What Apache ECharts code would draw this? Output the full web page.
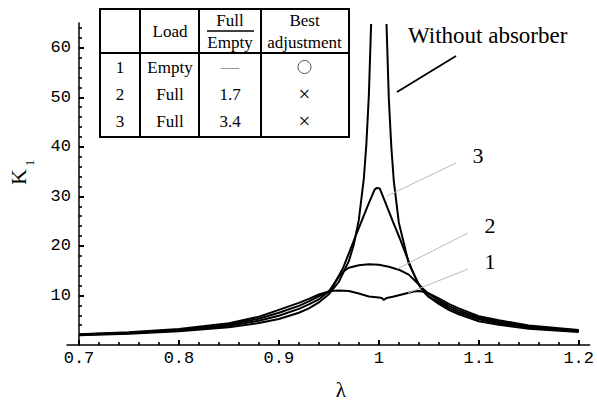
<!DOCTYPE html>
<html><head><meta charset="utf-8">
<script src="https://cdn.jsdelivr.net/npm/echarts@6/dist/echarts.min.js"></script>
<style>html,body{margin:0;padding:0;background:#fff}#c{width:597px;height:405px}</style>
</head><body><div id="c"></div>
<script>
// ---- axis ticks ----
const xTickValues = [0.7, 0.8, 0.9, 1.0, 1.1, 1.2];
const xTickLabels = ['0.7', '0.8', '0.9', '1', '1.1', '1.2'];
const xMinorTicks = [0.72,0.74,0.76,0.78,0.82,0.84,0.86,0.88,0.92,0.94,0.96,0.98,1.02,1.04,1.06,1.08,1.12,1.14,1.16,1.18];
const yMajorTicks = [10, 20, 30, 40, 50, 60];
const yMinorTicks = [2,4,6,8,12,14,16,18,22,24,26,28,32,34,36,38,42,44,46,48,52,54,56,58,62,64];
const xAxisName = 'λ';
const yAxisName = ['K', '1'];

// ---- series: Without absorber ----
const lambdaW = [0.70,0.75,0.80,0.85,0.88,0.90,0.92,0.93,0.94,0.95,0.96,0.97,0.975,0.98,0.985,0.9875,0.99,0.9923,1.0,1.0077,1.01,1.0125,1.015,1.02,1.03,1.04,1.05,1.06,1.07,1.08,1.10,1.12,1.15,1.20];
const kW      = [1.96,2.29,2.78,3.60,4.43,5.26,6.51,7.40,8.59,10.26,12.76,16.92,20.3,25.25,33.6,40.4,50.25,64.8,null,64.8,49.75,40.0,33.1,24.75,16.42,12.25,9.76,8.3,7.1,6.2,4.8,4.1,3.3,2.6];

// ---- series 1: Empty, best adjustment ----
const lambda1 = [0.70,0.75,0.80,0.85,0.88,0.90,0.92,0.93,0.94,0.945,0.95,0.955,0.96,0.97,0.98,0.99,1.000,1.003,1.005,1.008,1.015,1.025,1.035,1.04,1.046,1.05,1.055,1.06,1.07,1.08,1.10,1.12,1.15,1.20];
const k1      = [2.15,2.55,3.25,4.40,5.70,7.1,8.5,9.3,10.2,10.5,10.8,10.95,11.0,10.9,10.4,9.8,9.6,9.5,9.1,9.5,9.8,10.3,10.8,10.9,10.7,10.4,9.9,9.4,8.3,7.4,5.8,5.0,3.95,3.05];

// ---- series 2: Full, 1.7 ----
const lambda2 = [0.70,0.75,0.80,0.85,0.88,0.90,0.92,0.93,0.94,0.95,0.955,0.96,0.965,0.97,0.98,0.99,1.00,1.01,1.02,1.03,1.035,1.04,1.045,1.05,1.06,1.07,1.08,1.10,1.12,1.15,1.20];
const k2      = [2.10,2.45,3.10,4.15,5.30,6.5,7.9,8.8,9.8,10.8,12.3,13.8,14.9,15.6,16.1,16.3,16.2,15.8,15.2,14.2,13.2,12.2,11.2,10.3,9.0,7.9,7.0,5.5,4.7,3.75,2.9];

// ---- series 3: Full, 3.4 ----
const lambda3 = [0.70,0.75,0.80,0.85,0.88,0.90,0.92,0.93,0.94,0.9527,0.9644,0.9694,0.976,0.9826,0.9893,0.9959,0.9982,1.0009,1.0075,1.0141,1.0208,1.0273,1.0323,1.037,1.042,1.046,1.05,1.06,1.07,1.08,1.10,1.12,1.15,1.20];
const k3      = [2.05,2.38,2.95,3.90,4.90,5.9,7.3,8.2,9.2,11.3,15.6,18.2,21.6,24.9,28.3,31.4,31.7,31.6,28.3,24.9,21.6,18.2,15.6,13.4,11.5,10.5,9.7,8.6,7.5,6.6,5.2,4.4,3.55,2.75];

// ---- table ----
const tableHead = [[''], ['Load'], ['Full', 'Empty'], ['Best', 'adjustment']];
const tableRows = [
  ['1', 'Empty', '—', '○'],
  ['2', 'Full', '1.7', '×'],
  ['3', 'Full', '3.4', '×']
];
const curveLabels = ['1', '2', '3'];
const noAbsorberLabel = 'Without absorber';

function pairs(xs, ys) { return xs.map((x, i) => [x, ys[i]]); }

const SERIF = 'Liberation Serif';
const MONO = 'Liberation Mono';
const black = '#000';

// table layout
const tX = 100, tY = 9, tW = 249, tH = 128, headH = 44;
const colEdges = [100, 140, 199, 261, 349];
const colCenters = [120, 170, 230, 304.5];
const rowY = [67, 94, 121];

const graphic = [];
graphic.push({type:'rect', shape:{x:tX, y:tY, width:tW, height:tH}, style:{fill:'#fff', stroke:black, lineWidth:2}, z:10});
graphic.push({type:'line', shape:{x1:tX, y1:tY+headH, x2:tX+tW, y2:tY+headH}, style:{stroke:black, lineWidth:2}, z:11});
for (let i = 1; i < colEdges.length - 1; i++) {
  graphic.push({type:'line', shape:{x1:colEdges[i], y1:tY, x2:colEdges[i], y2:tY+tH}, style:{stroke:black, lineWidth:2}, z:11});
}
function txt(t, x, y, size, color, align, rot) {
  return {type:'text', x:x, y:y, z:12, rotation: rot || 0, style:{text:t, fontFamily:SERIF, fontSize:size, fill: color || black, align: align || 'center', verticalAlign:'middle'}};
}
// header
graphic.push(txt(tableHead[1][0], colCenters[1], 31, 17));
graphic.push(txt(tableHead[2][0], colCenters[2], 20, 17));
graphic.push(txt(tableHead[2][1], colCenters[2], 42, 17));
graphic.push({type:'line', shape:{x1:207, y1:31, x2:254, y2:31}, style:{stroke:black, lineWidth:1.5}, z:12});
graphic.push(txt(tableHead[3][0], colCenters[3], 20, 17));
graphic.push(txt(tableHead[3][1], colCenters[3], 42, 17));
// rows
tableRows.forEach((row, r) => {
  graphic.push(txt(row[0], colCenters[0], rowY[r], 17));
  graphic.push(txt(row[1], colCenters[1], rowY[r], 17));
  if (row[2] === '—') graphic.push(txt(row[2], colCenters[2], rowY[r], 18, '#999'));
  else graphic.push(txt(row[2], colCenters[2], rowY[r], 17));
  if (row[3] === '○') graphic.push({type:'circle', shape:{cx:colCenters[3], cy:rowY[r], r:6.5}, style:{fill:'none', stroke:'#555', lineWidth:1}, z:12});
  else graphic.push(txt(row[3], colCenters[3], rowY[r], 21));
});
// annotations
graphic.push({type:'line', shape:{x1:397, y1:92, x2:456, y2:56}, style:{stroke:black, lineWidth:1.8}, z:12});
graphic.push(txt(noAbsorberLabel, 408, 35, 23, black, 'left'));
const grey = '#bbb';
graphic.push({type:'line', shape:{x1:387, y1:196, x2:456, y2:163}, style:{stroke:grey, lineWidth:1}, z:12});
graphic.push({type:'line', shape:{x1:397, y1:269, x2:468, y2:233}, style:{stroke:grey, lineWidth:1}, z:12});
graphic.push({type:'line', shape:{x1:408, y1:293, x2:468, y2:269}, style:{stroke:grey, lineWidth:1}, z:12});
graphic.push(txt(curveLabels[2], 478, 155, 22));
graphic.push(txt(curveLabels[1], 490, 225, 22));
graphic.push(txt(curveLabels[0], 490, 261, 22));
// y axis title K with subscript 1 (rotated)
graphic.push(txt(yAxisName[0], 18, 177, 22, black, 'center', Math.PI / 2));
graphic.push(txt(yAxisName[1], 29, 163, 13, black, 'center', Math.PI / 2));

const lineStyle = {color:black, width:2};
function mkSeries(name, xs, ys) {
  return {name:name, type:'line', xAxisIndex:0, yAxisIndex:0, data:pairs(xs, ys), symbol:'none', showSymbol:false,
    connectNulls:false, lineStyle:lineStyle, silent:true, animation:false, clip:true};
}
const X_MIN = 0.688, X_MAX = 1.211, Y_MIN = 0, Y_MAX = 65;
const yOffset = -12; // puts the y axis at lambda = 0.7

const chart = echarts.init(document.getElementById('c'), null, {renderer:'svg'});
chart.setOption({
  animation:false,
  backgroundColor:'#fff',
  grid:[{left:67, right:4, top:23, bottom:57}],
  xAxis:[
    {type:'value', min:X_MIN, max:X_MAX, position:'bottom',
      axisLine:{show:true, onZero:false, lineStyle:{color:black, width:1.5}},
      axisTick:{show:true, inside:true, length:5, customValues:xTickValues, lineStyle:{color:black, width:2}},
      axisLabel:{customValues:xTickValues, fontFamily:MONO, fontSize:17, color:black, margin:5,
        formatter: v => { let best = 0; xTickValues.forEach((t, i) => { if (Math.abs(t - v) < Math.abs(xTickValues[best] - v)) best = i; }); return xTickLabels[best]; }},
      splitLine:{show:false},
      name:xAxisName, nameLocation:'middle', nameGap:34,
      nameTextStyle:{fontFamily:SERIF, fontSize:21, color:black, padding:[0,0,0,25]}
    },
    {type:'value', min:X_MIN, max:X_MAX, position:'bottom',
      axisLine:{show:false, onZero:false},
      axisTick:{show:true, inside:true, length:3, customValues:xMinorTicks, lineStyle:{color:black, width:1.6}},
      axisLabel:{show:false}, splitLine:{show:false}}
  ],
  yAxis:[
    {type:'value', min:Y_MIN, max:Y_MAX, position:'left', offset:yOffset,
      axisLine:{show:true, onZero:false, lineStyle:{color:black, width:1.5}},
      axisTick:{show:true, inside:true, length:5, customValues:yMajorTicks, lineStyle:{color:black, width:2}},
      axisLabel:{customValues:yMajorTicks, fontFamily:MONO, fontSize:17, color:black, margin:8},
      splitLine:{show:false}
    },
    {type:'value', min:Y_MIN, max:Y_MAX, position:'left', offset:yOffset,
      axisLine:{show:false, onZero:false},
      axisTick:{show:true, inside:true, length:3, customValues:yMinorTicks, lineStyle:{color:black, width:1.6}},
      axisLabel:{show:false}, splitLine:{show:false}}
  ],
  series:[
    mkSeries('Without absorber', lambdaW, kW),
    mkSeries('1', lambda1, k1),
    mkSeries('2', lambda2, k2),
    mkSeries('3', lambda3, k3)
  ],
  graphic: graphic
});
</script>
</body></html>
